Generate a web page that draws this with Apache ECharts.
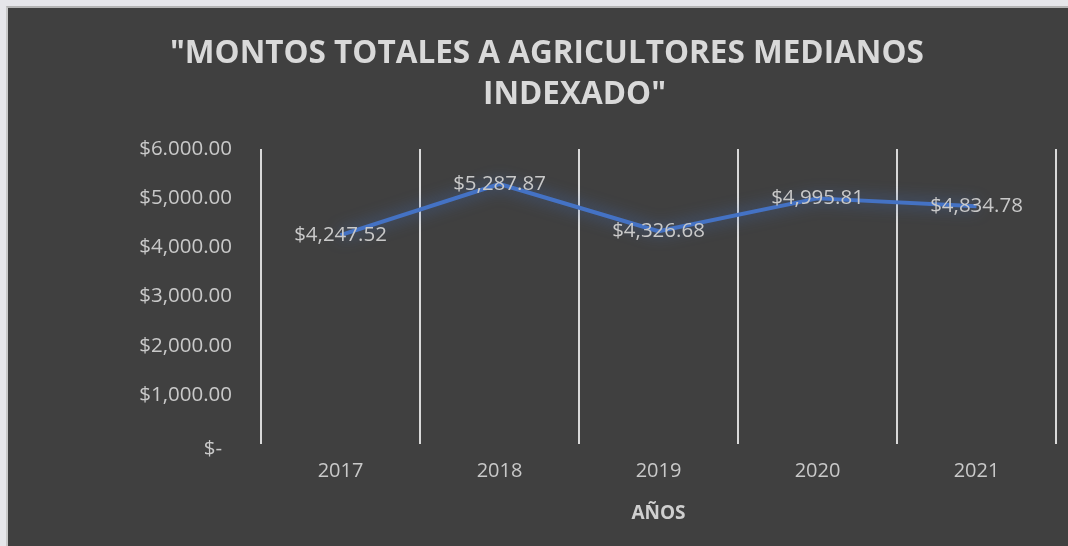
<!DOCTYPE html>
<html>
<head>
<meta charset="utf-8">
<script src="https://cdn.jsdelivr.net/npm/echarts@6/dist/echarts.min.js"></script>
<style>
    html, body { margin: 0; padding: 0; background: #e6e6ea; }
    #main {
        position: absolute;
        left: 6px;
        top: 6px;
        width: 1060px;
        height: 538px;
        background: #404040;
        border-left: 2px solid #c8c8c8;
        border-top: 2px solid #b4b4b4;
    }
</style>
</head>
<body>
<div id="main"></div>
<script>
// datos del grafico
const years = ['2017', '2018', '2019', '2020', '2021'];
const montos = [4247.52, 5287.87, 4326.68, 4995.81, 4834.78];
const montoLabels = ['$4,247.52', '$5,287.87', '$4,326.68', '$4,995.81', '$4,834.78'];
const yTicks = ['$-', '$1,000.00', '$2,000.00', '$3,000.00', '$4,000.00', '$5,000.00', '$6.000.00'];
const titleLines = ['"MONTOS TOTALES A AGRICULTORES MEDIANOS', 'INDEXADO"'];

const textColor = '#c9c9c9';
const font = '"Open Sans", "Noto Sans", sans-serif';

let myChart = echarts.init(document.getElementById('main'));

const seriesData = montos.map((v, i) => ({ value: v, label: { formatter: montoLabels[i] } }));

const titleStyle = {
    color: '#d9d9d9',
    fontFamily: font,
    fontWeight: 'bold',
    fontSize: 31.5,
    lineHeight: 42
};

const option = {
    backgroundColor: '#404040',
    // dos lineas del titulo, cada una con su propia posicion
    title: [
        { text: titleLines[0], left: 162, top: 25, padding: 0, textStyle: titleStyle },
        { text: titleLines[1], left: 475, top: 66, padding: 0, textStyle: titleStyle }
    ],
    grid: {
        left: 253,
        right: 12,
        top: 141,
        bottom: 102
    },
    xAxis: {
        type: 'category',
        data: years,
        boundaryGap: true,
        axisLine: { show: false },
        axisTick: { show: false },
        axisLabel: {
            color: textColor,
            fontFamily: font,
            fontSize: 20,
            margin: 17
        },
        splitLine: {
            show: true,
            lineStyle: { color: '#d9d9d9', width: 2 }
        },
        name: 'AÑOS',
        nameLocation: 'middle',
        nameGap: 60,
        nameTextStyle: {
            color: '#d0d0d0',
            fontFamily: font,
            fontWeight: 'bold',
            fontSize: 19
        }
    },
    yAxis: {
        type: 'value',
        min: 0,
        max: 6000,
        interval: 1000,
        axisLine: { show: false },
        axisTick: { show: false },
        splitLine: { show: false },
        axisLabel: {
            color: textColor,
            fontFamily: font,
            fontSize: 20.5,
            margin: 29,
            // la etiqueta "$-" va un poco mas abajo y a la izquierda
            formatter: (v) => v === 0 ? '{z|' + yTicks[0] + '}' : yTicks[Math.round(v / 1000)],
            rich: { z: { fontFamily: font, fontSize: 20.5, color: textColor, padding: [10, 10, 0, 0] } }
        }
    },
    series: [{
        type: 'line',
        data: seriesData,
        showSymbol: true,
        symbol: 'circle',
        symbolSize: 1,
        itemStyle: { color: 'rgba(0,0,0,0)', borderWidth: 0 },
        lineStyle: {
            color: '#4472c4',
            width: 4,
            shadowColor: 'rgba(68, 114, 196, 0.8)',
            shadowBlur: 16
        },
        label: {
            show: true,
            position: 'inside',
            color: textColor,
            fontFamily: font,
            fontSize: 20.5
        }
    }]
};

myChart.setOption(option);
</script>
</body>
</html>
